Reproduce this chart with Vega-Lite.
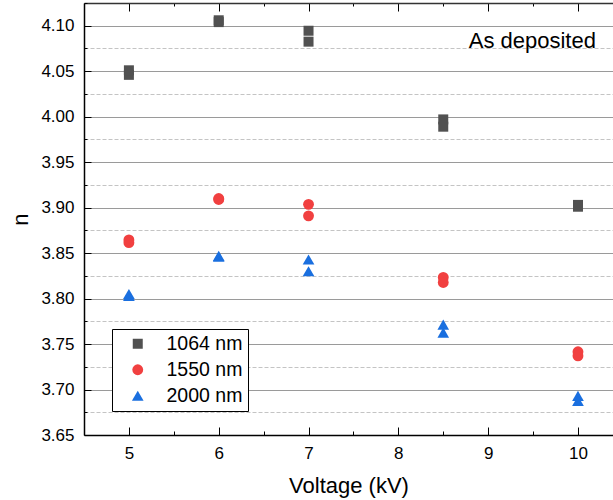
{
  "$schema": "https://vega.github.io/schema/vega-lite/v6.json",
  "width": 529,
  "height": 432,
  "autosize": {"type": "none"},
  "padding": {"left": 84, "top": 3, "right": 0, "bottom": 65},
  "background": "white",
  "config": {
    "font": "Liberation Sans",
    "view": {"stroke": null},
    "axis": {"labelColor": "black", "titleColor": "black", "titleFontWeight": "normal"}
  },
  "resolve": {"axis": {"x": "independent", "y": "independent"}},
  "layer": [
    {
      "data": {
        "values": [
          {"voltage": 5, "n": 4.046, "wavelength": "1064 nm"},
          {"voltage": 5, "n": 4.051, "wavelength": "1064 nm"},
          {"voltage": 6, "n": 4.104, "wavelength": "1064 nm"},
          {"voltage": 6, "n": 4.106, "wavelength": "1064 nm"},
          {"voltage": 7, "n": 4.0945, "wavelength": "1064 nm"},
          {"voltage": 7, "n": 4.0825, "wavelength": "1064 nm"},
          {"voltage": 8.5, "n": 3.997, "wavelength": "1064 nm"},
          {"voltage": 8.5, "n": 3.989, "wavelength": "1064 nm"},
          {"voltage": 10, "n": 3.901, "wavelength": "1064 nm"},
          {"voltage": 10, "n": 3.903, "wavelength": "1064 nm"},
          {"voltage": 5, "n": 3.8645, "wavelength": "1550 nm"},
          {"voltage": 5, "n": 3.8615, "wavelength": "1550 nm"},
          {"voltage": 6, "n": 3.909, "wavelength": "1550 nm"},
          {"voltage": 6, "n": 3.91, "wavelength": "1550 nm"},
          {"voltage": 7, "n": 3.9036, "wavelength": "1550 nm"},
          {"voltage": 7, "n": 3.891, "wavelength": "1550 nm"},
          {"voltage": 8.5, "n": 3.8233, "wavelength": "1550 nm"},
          {"voltage": 8.5, "n": 3.8177, "wavelength": "1550 nm"},
          {"voltage": 10, "n": 3.7415, "wavelength": "1550 nm"},
          {"voltage": 10, "n": 3.737, "wavelength": "1550 nm"},
          {"voltage": 5, "n": 3.803, "wavelength": "2000 nm"},
          {"voltage": 5, "n": 3.805, "wavelength": "2000 nm"},
          {"voltage": 6, "n": 3.846, "wavelength": "2000 nm"},
          {"voltage": 6, "n": 3.847, "wavelength": "2000 nm"},
          {"voltage": 7, "n": 3.843, "wavelength": "2000 nm"},
          {"voltage": 7, "n": 3.83, "wavelength": "2000 nm"},
          {"voltage": 8.5, "n": 3.7714, "wavelength": "2000 nm"},
          {"voltage": 8.5, "n": 3.7626, "wavelength": "2000 nm"},
          {"voltage": 10, "n": 3.693, "wavelength": "2000 nm"},
          {"voltage": 10, "n": 3.6875, "wavelength": "2000 nm"}
        ]
      },
      "mark": {"type": "point", "filled": true, "opacity": 1, "strokeWidth": 0},
      "encoding": {
        "x": {
          "field": "voltage",
          "type": "quantitative",
          "scale": {"domain": [4.5, 10.39], "nice": false, "zero": false},
          "axis": {
            "orient": "bottom",
            "title": "Voltage (kV)",
            "titleFontSize": 22,
            "titlePadding": 14,
            "values": [5, 5.5, 6, 6.5, 7, 7.5, 8, 8.5, 9, 9.5, 10],
            "labelExpr": "datum.value % 1 == 0 ? format(datum.value, 'd') : ''",
            "labelFontSize": 17,
            "labelPadding": 18,
            "domainColor": "black",
            "domainWidth": 1.5,
            "tickColor": "black",
            "tickWidth": 1,
            "tickSize": {"condition": {"test": "datum.value % 1 != 0", "value": -4}, "value": -8},
            "grid": false
          }
        },
        "y": {
          "field": "n",
          "type": "quantitative",
          "scale": {"domain": [3.65, 4.125], "nice": false, "zero": false},
          "axis": {
            "orient": "left",
            "title": "n",
            "titleFontSize": 22,
            "titlePadding": 8,
            "values": [3.65, 3.7, 3.75, 3.8, 3.85, 3.9, 3.95, 4.0, 4.05, 4.1],
            "format": ".2f",
            "labelFontSize": 17,
            "labelPadding": 17,
            "domainColor": "black",
            "domainWidth": 1.5,
            "tickColor": "black",
            "tickWidth": 1,
            "tickSize": -7,
            "grid": true,
            "gridColor": "#9a9a9a",
            "gridWidth": 1
          }
        },
        "color": {
          "field": "wavelength",
          "type": "nominal",
          "scale": {"domain": ["1064 nm", "1550 nm", "2000 nm"], "range": ["#515151", "#F14040", "#1A6FDF"]},
          "legend": {
            "title": null,
            "orient": "none",
            "legendX": 28,
            "legendY": 326,
            "padding": 5,
            "strokeColor": "black",
            "fillColor": "white",
            "labelFontSize": 19.5,
            "labelColor": "black",
            "symbolOffset": 11,
            "labelOffset": 19,
            "rowPadding": 5
          }
        },
        "shape": {
          "field": "wavelength",
          "type": "nominal",
          "scale": {"domain": ["1064 nm", "1550 nm", "2000 nm"], "range": ["square", "circle", "triangle-up"]}
        },
        "size": {
          "field": "wavelength",
          "type": "nominal",
          "scale": {"domain": ["1064 nm", "1550 nm", "2000 nm"], "range": [100, 136, 170]}
        }
      }
    },
    {
      "data": {"values": [{"label": "As deposited"}]},
      "mark": {"type": "text", "fontSize": 22, "align": "right", "baseline": "alphabetic", "color": "black"},
      "encoding": {
        "text": {"field": "label"},
        "x": {
          "datum": 10.2,
          "type": "quantitative",
          "axis": {
            "orient": "top",
            "title": null,
            "labels": false,
            "values": [5, 5.5, 6, 6.5, 7, 7.5, 8, 8.5, 9, 9.5, 10],
            "domainColor": "#333333",
            "domainWidth": 1.5,
            "tickColor": "black",
            "tickWidth": 1,
            "tickSize": {"condition": {"test": "datum.value % 1 != 0", "value": -3}, "value": -8},
            "grid": false
          }
        },
        "y": {
          "datum": 4.076,
          "type": "quantitative",
          "axis": {
            "orient": "left",
            "title": null,
            "labels": false,
            "domain": false,
            "values": [3.675, 3.725, 3.775, 3.825, 3.875, 3.925, 3.975, 4.025, 4.075, 4.125],
            "tickColor": "black",
            "tickWidth": 1,
            "tickSize": -3,
            "grid": true,
            "gridColor": "#c4c4c4",
            "gridDash": [4, 2],
            "gridWidth": 1
          }
        }
      }
    }
  ]
}
